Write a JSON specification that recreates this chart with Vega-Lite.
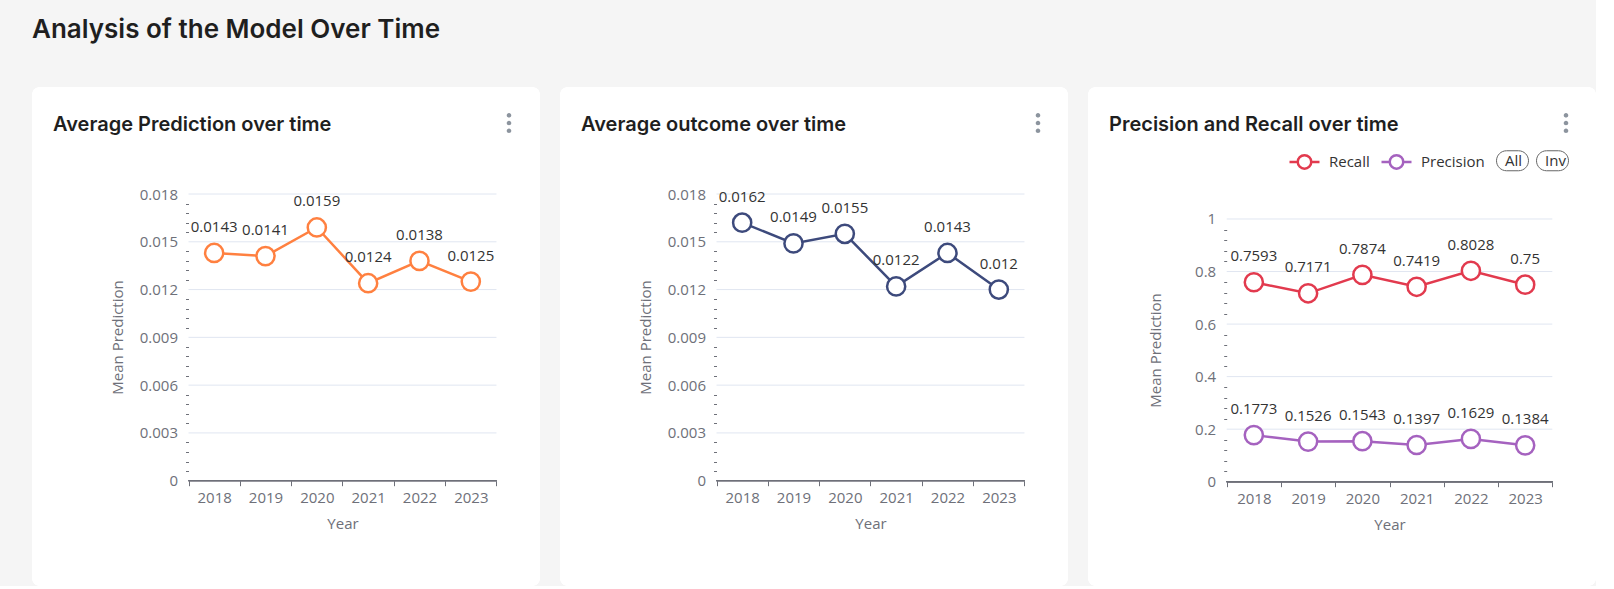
{
  "$schema": "https://vega.github.io/schema/vega-lite/v6.json",
  "background": "#F5F5F5",
  "padding": {"left": 32, "top": 17, "right": 0, "bottom": 0},
  "title": {"text": "Analysis of the Model Over Time", "anchor": "start", "frame": "group", "font": "Inter", "fontSize": 26, "fontWeight": 600, "color": "#1f1f1f", "offset": 44},
  "resolve": {"scale": {"stroke": "independent", "shape": "independent", "fill": "independent"}, "legend": {"stroke": "independent", "shape": "independent", "fill": "independent"}},
  "config": {
    "font": "Open Sans",
    "view": {"fill": "white", "stroke": null, "cornerRadius": 8},
    "concat": {"spacing": 20},
    "axis": {"labelFont": "Open Sans", "labelFontSize": 15, "labelColor": "#6E7079", "titleFont": "Open Sans", "titleFontSize": 15, "titleFontWeight": "normal", "titleColor": "#6E7079", "labelOverlap": false, "labelFlush": false, "tickCount": 200},
    "legend": {"labelFont": "Open Sans", "labelFontSize": 15, "labelColor": "#333333"}
  },
  "hconcat": [
    {
      "width": 508, "height": 499,
      "title": {"text": "Average Prediction over time", "anchor": "start", "frame": "group", "font": "Inter", "fontSize": 20, "fontWeight": 600, "color": "#1f1f1f", "baseline": "top", "offset": -48, "dx": 21},
      "data": {"values": [
        {"year": 2018, "value": 0.0143},
        {"year": 2019, "value": 0.0141},
        {"year": 2020, "value": 0.0159},
        {"year": 2021, "value": 0.0124},
        {"year": 2022, "value": 0.0138},
        {"year": 2023, "value": 0.0125}
      ]},
      "layer": [
        {
          "data": {"values": [{"card": "Average Prediction over time"}]},
          "mark": {"type": "rect", "fill": "white", "cornerRadius": 8, "stroke": null},
          "encoding": {}
        },
        {
          "data": {"values": [{"g": 0.003}, {"g": 0.006}, {"g": 0.009}, {"g": 0.012}, {"g": 0.015}, {"g": 0.018}]},
          "mark": {"type": "rule", "color": "#E0E6F1", "strokeWidth": 1},
          "encoding": {
            "y": {"field": "g", "type": "quantitative", "scale": {"domain": [-0.006611, 0.024718], "nice": false, "zero": false}},
            "x": {"datum": 2017.5, "type": "quantitative", "scale": {"domain": [2014.451, 2024.348], "nice": false, "zero": false}},
            "x2": {"datum": 2023.5}
          }
        },
        {
          "mark": {"type": "rule", "color": "#6E7079", "strokeWidth": 1},
          "encoding": {
            "y": {"datum": 0, "type": "quantitative"},
            "x": {"datum": 2017.5, "type": "quantitative"},
            "x2": {"datum": 2023.5}
          }
        },
        {
          "mark": {"type": "line", "color": "#FF8040", "strokeWidth": 2.5},
          "encoding": {
            "x": {"field": "year", "type": "quantitative", "scale": {"domain": [2014.451, 2024.348], "nice": false, "zero": false},
              "axis": {"values": [2017.5, 2018, 2018.5, 2019, 2019.5, 2020, 2020.5, 2021, 2021.5, 2022, 2022.5, 2023, 2023.5], "tickCount": 200, "labelOverlap": false, "labelExpr": "datum.value % 1 ? '' : '' + datum.value", "offset": -105.3, "domain": false, "grid": false, "zindex": 1, "tickSize": 5, "tickColor": "#6E7079", "tickOpacity": {"condition": {"test": "datum.value % 1 == 0", "value": 0}, "value": 1}, "labelPadding": 5, "title": "Year", "titleX": 310.5, "titleY": 43, "titleBaseline": "middle"}},
            "y": {"field": "value", "type": "quantitative", "scale": {"domain": [-0.006611, 0.024718], "nice": false, "zero": false},
              "axis": {"values": [0, 0.0006, 0.0012, 0.0018, 0.0024, 0.003, 0.0036, 0.0042, 0.0048, 0.0054, 0.006, 0.0066, 0.0072, 0.0078, 0.0084, 0.009, 0.0096, 0.0102, 0.0108, 0.0114, 0.012, 0.0126, 0.0132, 0.0138, 0.0144, 0.015, 0.0156, 0.0162, 0.0168, 0.0174, 0.018], "tickCount": 200, "labelOverlap": false, "format": "~g", "labelExpr": "abs(datum.value/0.003 - round(datum.value/0.003)) < 0.01 ? datum.label : ''", "offset": -156.5, "domain": false, "grid": false, "zindex": 1, "tickSize": 3, "tickColor": "#6E7079", "tickOpacity": {"condition": {"test": "abs(datum.value/0.003 - round(datum.value/0.003)) < 0.01", "value": 0}, "value": 1}, "labelPadding": 8, "title": "Mean Prediction", "titleX": -71.5, "titleY": 250, "titleBaseline": "middle"}}
          }
        },
        {
          "mark": {"type": "point", "filled": true, "fill": "white", "stroke": "#FF8040", "strokeWidth": 2.5, "size": 330, "opacity": 1},
          "encoding": {
            "x": {"field": "year", "type": "quantitative"},
            "y": {"field": "value", "type": "quantitative"}
          }
        },
        {
          "mark": {"type": "text", "fontSize": 15, "color": "#333333", "dy": -26, "baseline": "middle"},
          "encoding": {
            "x": {"field": "year", "type": "quantitative"},
            "y": {"field": "value", "type": "quantitative"},
            "text": {"field": "value", "type": "quantitative", "format": "~g"}
          }
        },
        {
          "data": {"values": [{"menu": "more"}]},
          "mark": {"type": "point", "opacity": 0, "filled": true},
          "encoding": {
            "fill": {"field": "menu", "type": "nominal", "scale": {"domain": ["more"], "range": ["#8C949E"]},
              "legend": {"orient": "none", "legendX": 464, "legendY": 23, "title": null, "labelExpr": "''", "symbolSize": 655, "symbolType": "M0.18,-0.6A0.18,0.18,0,1,1,-0.18,-0.6A0.18,0.18,0,1,1,0.18,-0.6ZM0.18,0A0.18,0.18,0,1,1,-0.18,0A0.18,0.18,0,1,1,0.18,0ZM0.18,0.6A0.18,0.18,0,1,1,-0.18,0.6A0.18,0.18,0,1,1,0.18,0.6Z", "symbolStrokeWidth": 0, "symbolOpacity": 1}}
          }
        }
      ]
    },
    {
      "width": 508, "height": 499,
      "title": {"text": "Average outcome over time", "anchor": "start", "frame": "group", "font": "Inter", "fontSize": 20, "fontWeight": 600, "color": "#1f1f1f", "baseline": "top", "offset": -48, "dx": 21},
      "data": {"values": [
        {"year": 2018, "value": 0.0162},
        {"year": 2019, "value": 0.0149},
        {"year": 2020, "value": 0.0155},
        {"year": 2021, "value": 0.0122},
        {"year": 2022, "value": 0.0143},
        {"year": 2023, "value": 0.012}
      ]},
      "layer": [
        {
          "data": {"values": [{"card": "Average outcome over time"}]},
          "mark": {"type": "rect", "fill": "white", "cornerRadius": 8, "stroke": null},
          "encoding": {}
        },
        {
          "data": {"values": [{"g": 0.003}, {"g": 0.006}, {"g": 0.009}, {"g": 0.012}, {"g": 0.015}, {"g": 0.018}]},
          "mark": {"type": "rule", "color": "#E0E6F1", "strokeWidth": 1},
          "encoding": {
            "y": {"field": "g", "type": "quantitative", "scale": {"domain": [-0.006611, 0.024718], "nice": false, "zero": false}},
            "x": {"datum": 2017.5, "type": "quantitative", "scale": {"domain": [2014.451, 2024.348], "nice": false, "zero": false}},
            "x2": {"datum": 2023.5}
          }
        },
        {
          "mark": {"type": "rule", "color": "#6E7079", "strokeWidth": 1},
          "encoding": {
            "y": {"datum": 0, "type": "quantitative"},
            "x": {"datum": 2017.5, "type": "quantitative"},
            "x2": {"datum": 2023.5}
          }
        },
        {
          "mark": {"type": "line", "color": "#3D4A7C", "strokeWidth": 2.5},
          "encoding": {
            "x": {"field": "year", "type": "quantitative", "scale": {"domain": [2014.451, 2024.348], "nice": false, "zero": false},
              "axis": {"values": [2017.5, 2018, 2018.5, 2019, 2019.5, 2020, 2020.5, 2021, 2021.5, 2022, 2022.5, 2023, 2023.5], "tickCount": 200, "labelOverlap": false, "labelExpr": "datum.value % 1 ? '' : '' + datum.value", "offset": -105.3, "domain": false, "grid": false, "zindex": 1, "tickSize": 5, "tickColor": "#6E7079", "tickOpacity": {"condition": {"test": "datum.value % 1 == 0", "value": 0}, "value": 1}, "labelPadding": 5, "title": "Year", "titleX": 310.5, "titleY": 43, "titleBaseline": "middle"}},
            "y": {"field": "value", "type": "quantitative", "scale": {"domain": [-0.006611, 0.024718], "nice": false, "zero": false},
              "axis": {"values": [0, 0.0006, 0.0012, 0.0018, 0.0024, 0.003, 0.0036, 0.0042, 0.0048, 0.0054, 0.006, 0.0066, 0.0072, 0.0078, 0.0084, 0.009, 0.0096, 0.0102, 0.0108, 0.0114, 0.012, 0.0126, 0.0132, 0.0138, 0.0144, 0.015, 0.0156, 0.0162, 0.0168, 0.0174, 0.018], "tickCount": 200, "labelOverlap": false, "format": "~g", "labelExpr": "abs(datum.value/0.003 - round(datum.value/0.003)) < 0.01 ? datum.label : ''", "offset": -156.5, "domain": false, "grid": false, "zindex": 1, "tickSize": 3, "tickColor": "#6E7079", "tickOpacity": {"condition": {"test": "abs(datum.value/0.003 - round(datum.value/0.003)) < 0.01", "value": 0}, "value": 1}, "labelPadding": 8, "title": "Mean Prediction", "titleX": -71.5, "titleY": 250, "titleBaseline": "middle"}}
          }
        },
        {
          "mark": {"type": "point", "filled": true, "fill": "white", "stroke": "#3D4A7C", "strokeWidth": 2.5, "size": 330, "opacity": 1},
          "encoding": {
            "x": {"field": "year", "type": "quantitative"},
            "y": {"field": "value", "type": "quantitative"}
          }
        },
        {
          "mark": {"type": "text", "fontSize": 15, "color": "#333333", "dy": -26, "baseline": "middle"},
          "encoding": {
            "x": {"field": "year", "type": "quantitative"},
            "y": {"field": "value", "type": "quantitative"},
            "text": {"field": "value", "type": "quantitative", "format": "~g"}
          }
        },
        {
          "data": {"values": [{"menu": "more"}]},
          "mark": {"type": "point", "opacity": 0, "filled": true},
          "encoding": {
            "fill": {"field": "menu", "type": "nominal", "scale": {"domain": ["more"], "range": ["#8C949E"]},
              "legend": {"orient": "none", "legendX": 465, "legendY": 23, "title": null, "labelExpr": "''", "symbolSize": 655, "symbolType": "M0.18,-0.6A0.18,0.18,0,1,1,-0.18,-0.6A0.18,0.18,0,1,1,0.18,-0.6ZM0.18,0A0.18,0.18,0,1,1,-0.18,0A0.18,0.18,0,1,1,0.18,0ZM0.18,0.6A0.18,0.18,0,1,1,-0.18,0.6A0.18,0.18,0,1,1,0.18,0.6Z", "symbolStrokeWidth": 0, "symbolOpacity": 1}}
          }
        }
      ]
    },
    {
      "width": 508, "height": 499,
      "title": {"text": "Precision and Recall over time", "anchor": "start", "frame": "group", "font": "Inter", "fontSize": 20, "fontWeight": 600, "color": "#1f1f1f", "baseline": "top", "offset": -48, "dx": 21},
      "data": {"values": [
        {"year": 2018, "metric": "Recall", "value": 0.7593},
        {"year": 2019, "metric": "Recall", "value": 0.7171},
        {"year": 2020, "metric": "Recall", "value": 0.7874},
        {"year": 2021, "metric": "Recall", "value": 0.7419},
        {"year": 2022, "metric": "Recall", "value": 0.8028},
        {"year": 2023, "metric": "Recall", "value": 0.75},
        {"year": 2018, "metric": "Precision", "value": 0.1773},
        {"year": 2019, "metric": "Precision", "value": 0.1526},
        {"year": 2020, "metric": "Precision", "value": 0.1543},
        {"year": 2021, "metric": "Precision", "value": 0.1397},
        {"year": 2022, "metric": "Precision", "value": 0.1629},
        {"year": 2023, "metric": "Precision", "value": 0.1384}
      ]},
      "layer": [
        {
          "data": {"values": [{"card": "Precision and Recall over time"}]},
          "mark": {"type": "rect", "fill": "white", "cornerRadius": 8, "stroke": null},
          "encoding": {}
        },
        {
          "data": {"values": [{"g": 0.2}, {"g": 0.4}, {"g": 0.6}, {"g": 0.8}, {"g": 1}]},
          "mark": {"type": "rule", "color": "#E0E6F1", "strokeWidth": 1},
          "encoding": {
            "y": {"field": "g", "type": "quantitative", "scale": {"domain": [-0.39703, 1.50247], "nice": false, "zero": false}},
            "x": {"datum": 2017.5, "type": "quantitative", "scale": {"domain": [2014.944, 2024.305], "nice": false, "zero": false}},
            "x2": {"datum": 2023.5}
          }
        },
        {
          "mark": {"type": "rule", "color": "#6E7079", "strokeWidth": 1},
          "encoding": {
            "y": {"datum": 0, "type": "quantitative"},
            "x": {"datum": 2017.5, "type": "quantitative"},
            "x2": {"datum": 2023.5}
          }
        },
        {
          "mark": {"type": "line", "strokeWidth": 2.5},
          "encoding": {
            "x": {"field": "year", "type": "quantitative", "scale": {"domain": [2014.944, 2024.305], "nice": false, "zero": false},
              "axis": {"values": [2017.5, 2018, 2018.5, 2019, 2019.5, 2020, 2020.5, 2021, 2021.5, 2022, 2022.5, 2023, 2023.5], "tickCount": 200, "labelOverlap": false, "labelExpr": "datum.value % 1 ? '' : '' + datum.value", "offset": -104.3, "domain": false, "grid": false, "zindex": 1, "tickSize": 5, "tickColor": "#6E7079", "tickOpacity": {"condition": {"test": "datum.value % 1 == 0", "value": 0}, "value": 1}, "labelPadding": 5, "title": "Year", "titleX": 301.5, "titleY": 43, "titleBaseline": "middle"}},
            "y": {"field": "value", "type": "quantitative", "scale": {"domain": [-0.39703, 1.50247], "nice": false, "zero": false},
              "axis": {"values": [0, 0.04, 0.08, 0.12, 0.16, 0.2, 0.24, 0.28, 0.32, 0.36, 0.4, 0.44, 0.48, 0.52, 0.56, 0.6, 0.64, 0.68, 0.72, 0.76, 0.8, 0.84, 0.88, 0.92, 0.96, 1], "tickCount": 200, "labelOverlap": false, "format": "~g", "labelExpr": "abs(datum.value*5 - round(datum.value*5)) < 0.01 ? datum.label : ''", "offset": -138.7, "domain": false, "grid": false, "zindex": 1, "tickSize": 3, "tickColor": "#6E7079", "tickOpacity": {"condition": {"test": "abs(datum.value*5 - round(datum.value*5)) < 0.01", "value": 0}, "value": 1}, "labelPadding": 8, "title": "Mean Prediction", "titleX": -71.5, "titleY": 263, "titleBaseline": "middle"}},
            "stroke": {"field": "metric", "type": "nominal", "scale": {"domain": ["Recall", "Precision"], "range": ["#E23A4E", "#A562BF"]},
              "legend": {"orient": "none", "legendX": 200, "legendY": 58, "direction": "horizontal", "title": null, "symbolType": "M-1,0L-0.45,0M0.45,0L1,0M0.45,0A0.45,0.45,0,1,1,-0.45,0A0.45,0.45,0,1,1,0.45,0", "symbolSize": 900, "symbolStrokeWidth": 2.5, "symbolFillColor": "white", "labelOffset": 8, "columnPadding": 6}}
          }
        },
        {
          "mark": {"type": "point", "filled": true, "fill": "white", "strokeWidth": 2.5, "size": 330, "opacity": 1},
          "encoding": {
            "x": {"field": "year", "type": "quantitative"},
            "y": {"field": "value", "type": "quantitative"},
            "stroke": {"field": "metric", "type": "nominal"}
          }
        },
        {
          "mark": {"type": "text", "fontSize": 15, "color": "#333333", "dy": -26, "baseline": "middle"},
          "encoding": {
            "x": {"field": "year", "type": "quantitative"},
            "y": {"field": "value", "type": "quantitative"},
            "text": {"field": "value", "type": "quantitative", "format": "~g"}
          }
        },
        {
          "data": {"values": [{"btn": "All"}, {"btn": "Inv"}]},
          "mark": {"type": "point", "opacity": 0},
          "encoding": {
            "shape": {"field": "btn", "type": "nominal", "scale": {"domain": ["All", "Inv"], "range": ["M-0.375,-0.625L0.375,-0.625A0.625,0.625,0,0,1,0.375,0.625L-0.375,0.625A0.625,0.625,0,0,1,-0.375,-0.625Z", "M-0.375,-0.625L0.375,-0.625A0.625,0.625,0,0,1,0.375,0.625L-0.375,0.625A0.625,0.625,0,0,1,-0.375,-0.625Z"]},
              "legend": {"orient": "none", "legendX": 408, "legendY": 57, "direction": "horizontal", "title": null, "symbolSize": 1024, "symbolStrokeColor": "#666666", "symbolFillColor": "white", "symbolStrokeWidth": 1, "symbolOpacity": 1, "labelOffset": -24, "columnPadding": 3}}
          }
        },
        {
          "data": {"values": [{"menu": "more"}]},
          "mark": {"type": "point", "opacity": 0, "filled": true},
          "encoding": {
            "fill": {"field": "menu", "type": "nominal", "scale": {"domain": ["more"], "range": ["#8C949E"]},
              "legend": {"orient": "none", "legendX": 465, "legendY": 23, "title": null, "labelExpr": "''", "symbolSize": 655, "symbolType": "M0.18,-0.6A0.18,0.18,0,1,1,-0.18,-0.6A0.18,0.18,0,1,1,0.18,-0.6ZM0.18,0A0.18,0.18,0,1,1,-0.18,0A0.18,0.18,0,1,1,0.18,0ZM0.18,0.6A0.18,0.18,0,1,1,-0.18,0.6A0.18,0.18,0,1,1,0.18,0.6Z", "symbolStrokeWidth": 0, "symbolOpacity": 1}}
          }
        }
      ]
    }
  ]
}
